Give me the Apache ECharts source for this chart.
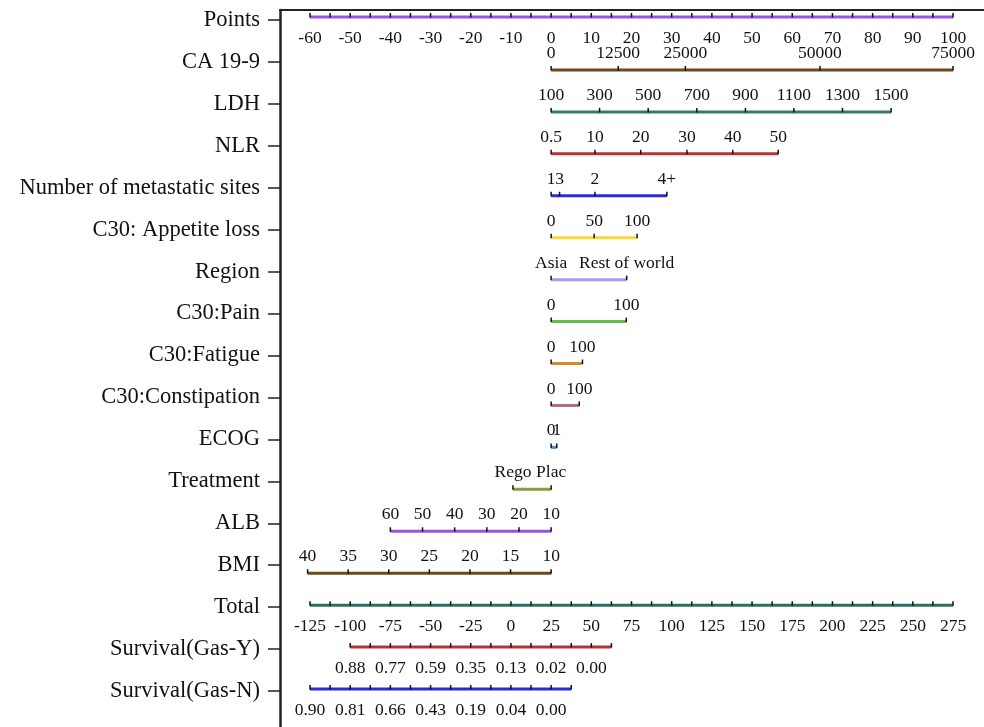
<!DOCTYPE html>
<html><head><meta charset="utf-8">
<script src="https://cdn.jsdelivr.net/npm/echarts@6/dist/echarts.min.js"></script>
<style>html,body{margin:0;padding:0;background:#fff}#c{width:984px;height:727px}</style>
</head><body><div id="c"></div>
<script>
// ---------- data ----------
const rowNames = ['Points','CA 19-9','LDH','NLR','Number of metastatic sites','C30: Appetite loss','Region','C30:Pain','C30:Fatigue','C30:Constipation','ECOG','Treatment','ALB','BMI','Total','Survival(Gas-Y)','Survival(Gas-N)'];

// Points scale (points units)
const pointsLabels = ['-60','-50','-40','-30','-20','-10','0','10','20','30','40','50','60','70','80','90','100'];
const pointsValues = [-60,-50,-40,-30,-20,-10,0,10,20,30,40,50,60,70,80,90,100];

// predictors: tick label -> points
const caLabels = ['0','12500','25000','50000','75000'];
const caPoints = [0,16.7,33.4,66.9,100];
const ldhLabels = ['100','300','500','700','900','1100','1300','1500'];
const ldhPoints = [0,12.05,24.15,36.25,48.35,60.4,72.5,84.6];
const nlrLabels = ['0.5','10','20','30','40','50'];
const nlrPoints = [0,10.9,22.3,33.8,45.2,56.5];
const metLabels = ['1','3','2','4+'];
const metPoints = [0,2.1,10.9,28.8];
const appLabels = ['0','50','100'];
const appPoints = [0,10.7,21.4];
const regionLabels = ['Asia','Rest of world'];
const regionPoints = [0,18.8];
const painLabels = ['0','100'];
const painPoints = [0,18.7];
const fatigueLabels = ['0','100'];
const fatiguePoints = [0,7.8];
const constLabels = ['0','100'];
const constPoints = [0,7.0];
const ecogLabels = ['0','1'];
const ecogPoints = [0,1.4];
const treatLabels = ['Rego','Plac'];
const treatPoints = [-9.5,0];
const albLabels = ['60','50','40','30','20','10'];
const albPoints = [-40,-32,-24,-16,-8,0];
const bmiLabels = ['40','35','30','25','20','15','10'];
const bmiPoints = [-60.6,-50.5,-40.4,-30.3,-20.2,-10.1,0];

// Total points scale (total units)
const totalLabels = ['-125','-100','-75','-50','-25','0','25','50','75','100','125','150','175','200','225','250','275'];
const totalValues = [-125,-100,-75,-50,-25,0,25,50,75,100,125,150,175,200,225,250,275];
// survival scales: label -> total points
const gasYLabels = ['0.88','0.77','0.59','0.35','0.13','0.02','0.00'];
const gasYTotals = [-100,-75,-50,-25,0,25,50];
const gasYRange = [-100,62.5];
const gasNLabels = ['0.90','0.81','0.66','0.43','0.19','0.04','0.00'];
const gasNTotals = [-125,-100,-75,-50,-25,0,25];
const gasNRange = [-125,37.5];

// ---------- styles ----------
const rowColors = ['#9a55e0','#6b4a1c','#3a7a6a','#b8303a','#2b2bdc','#f2d83a','#a898f0','#66b84a','#d48a2a','#b06a8c','#3a8ee8','#8c9a3a','#9a55e0','#6b4a1c','#2e6e62','#b8303a','#2b2bdc'];
const FONT = '"Liberation Serif","Times New Roman",serif';

function steps(a, b, s){ const r=[]; for(let v=a; v<=b+1e-9; v+=s) r.push(v); return r; }

// rows drawn on the points axis (xAxis 0)
const varDefs = [
  [1,caLabels,caPoints],[2,ldhLabels,ldhPoints],[3,nlrLabels,nlrPoints],[4,metLabels,metPoints],
  [5,appLabels,appPoints],[6,regionLabels,regionPoints],[7,painLabels,painPoints],[8,fatigueLabels,fatiguePoints],
  [9,constLabels,constPoints],[10,ecogLabels,ecogPoints],[11,treatLabels,treatPoints],[12,albLabels,albPoints],[13,bmiLabels,bmiPoints]
];
const defsA = [{row:0, kind:'scale', lo:-60, hi:100, ticks:steps(-60,100,5), labels:pointsLabels, pos:pointsValues}]
  .concat(varDefs.map(d => ({row:d[0], kind:'var', lo:Math.min(...d[2]), hi:Math.max(...d[2]), ticks:d[2], labels:d[1], pos:d[2]})));
// rows drawn on the total axis (xAxis 1)
const defsB = [
  {row:14, kind:'scale', lo:-125, hi:275, ticks:steps(-125,275,12.5), labels:totalLabels, pos:totalValues},
  {row:15, kind:'scale', lo:gasYRange[0], hi:gasYRange[1], ticks:steps(gasYRange[0],gasYRange[1],12.5), labels:gasYLabels, pos:gasYTotals},
  {row:16, kind:'scale', lo:gasNRange[0], hi:gasNRange[1], ticks:steps(gasNRange[0],gasNRange[1],12.5), labels:gasNLabels, pos:gasNTotals}
];

function makeRender(defs){
  return function(params, api){
    const d = defs[params.dataIndex];
    const p0 = api.coord([d.lo, d.row]);
    const p1 = api.coord([d.hi, d.row]);
    const dy = d.kind === 'var' ? 8 : (d.row === 0 ? -3 : -2);
    const y = p0[1] + dy;
    const color = rowColors[d.row];
    const ch = [{type:'line', shape:{x1:p0[0], y1:y, x2:p1[0], y2:y}, style:{stroke:color, lineWidth:3}}];
    d.ticks.forEach(t => {
      const x = api.coord([t, d.row])[0];
      ch.push({type:'line', shape:{x1:x, y1:y-4, x2:x, y2:y+0.5}, style:{stroke:'#111', lineWidth:1.5}});
    });
    d.labels.forEach((lab, i) => {
      const x = api.coord([d.pos[i], d.row])[0];
      ch.push({type:'text', x:x, y: d.kind === 'var' ? y-16.5 : y+21,
        style:{text:lab, fill:'#111', fontSize:17.5, fontFamily:FONT, align:'center', verticalAlign:'middle'}});
    });
    return {type:'group', children:ch};
  };
}

// layout: points -60 at x=310, 100 at x=953; grid spans 280..984
const gl = 280, gr = 984, xa = 310, xb = 953;
const ppu = (xb - xa) / 160, tpu = (xb - xa) / 400;
const rowPx = 41.94, gridTop = 10, gridH = 727 - gridTop;
const yMin = -(20 - gridTop) / rowPx, yMax = yMin + gridH / rowPx;

const chart = echarts.init(document.getElementById('c'), null, {renderer:'canvas'});
chart.setOption({
  animation:false,
  backgroundColor:'#fff',
  grid:{left:gl, right:984 - gr, top:gridTop, bottom:0, containLabel:false},
  xAxis:[
    {type:'value', position:'top', min:-60 - (xa - gl)/ppu, max:100 + (gr - xb)/ppu,
     axisLine:{show:true, onZero:false, lineStyle:{color:'#222', width:2}}, axisTick:{show:false}, axisLabel:{show:false}, splitLine:{show:false}},
    {type:'value', show:false, min:-125 - (xa - gl)/tpu, max:275 + (gr - xb)/tpu, splitLine:{show:false}}
  ],
  yAxis:{type:'value', inverse:true, min:yMin, max:yMax, position:'left',
    axisLine:{show:true, onZero:false, lineStyle:{color:'#222', width:2.5}},
    axisTick:{show:true, length:12, customValues:rowNames.map((_, i) => i), lineStyle:{color:'#222', width:1.5}},
    axisLabel:{show:true, margin:20, customValues:rowNames.map((_, i) => i), formatter:v => rowNames[Math.round(v)] || '',
      fontSize:22.5, fontFamily:FONT, color:'#111'},
    splitLine:{show:false}},
  series:[
    {type:'custom', xAxisIndex:0, yAxisIndex:0, clip:false, renderItem:makeRender(defsA),
     encode:{x:[0,2], y:1}, data:defsA.map(d => [d.lo, d.row, d.hi])},
    {type:'custom', xAxisIndex:1, yAxisIndex:0, clip:false, renderItem:makeRender(defsB),
     encode:{x:[0,2], y:1}, data:defsB.map(d => [d.lo, d.row, d.hi])}
  ]
});
</script></body></html>
